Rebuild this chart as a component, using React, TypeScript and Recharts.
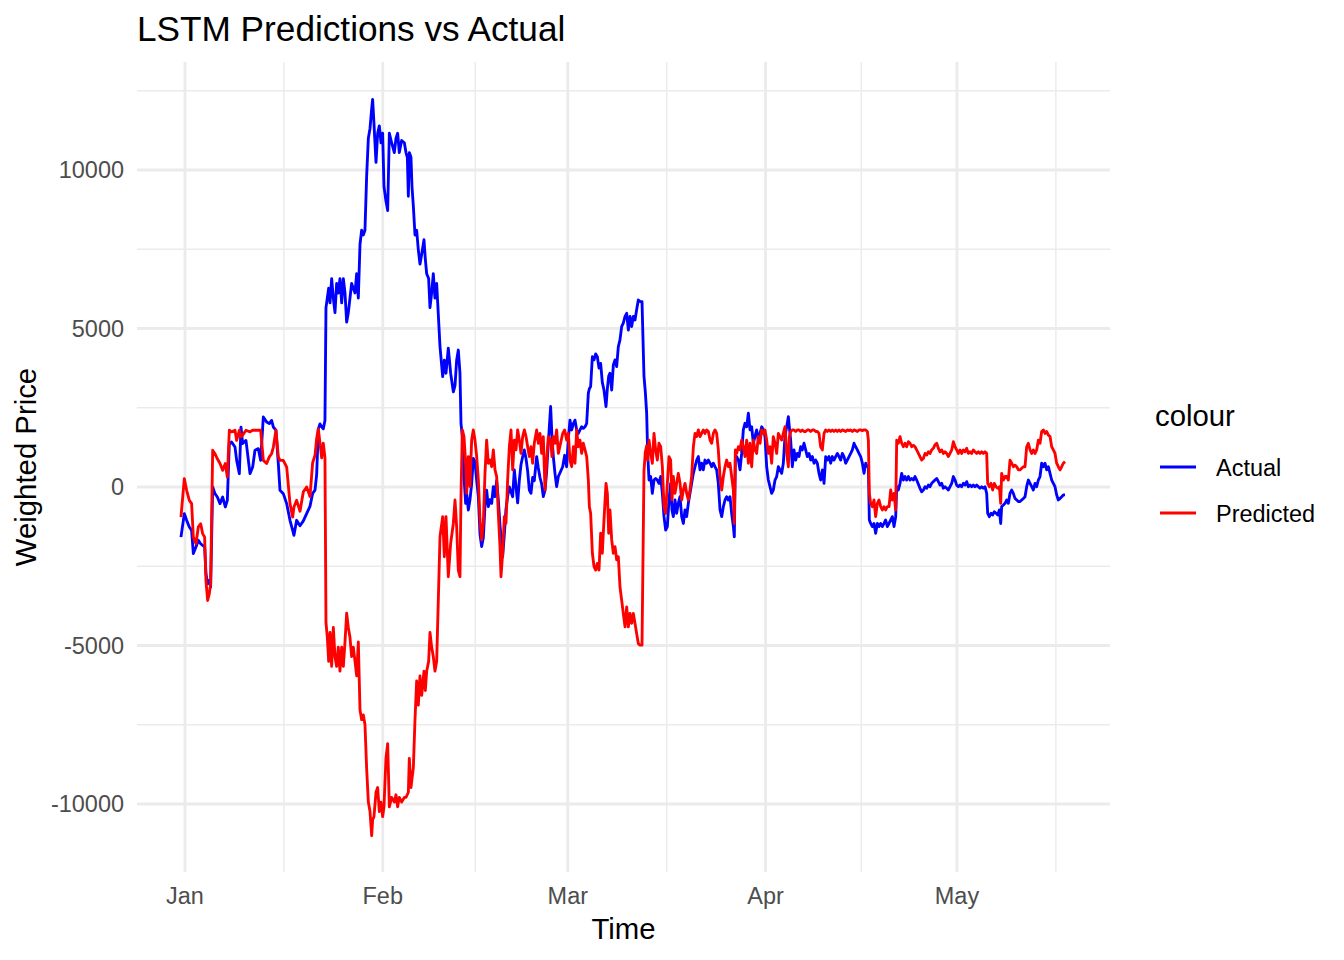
import { LineChart, Line, XAxis, YAxis, CartesianGrid } from 'recharts';

const FONT = '"Liberation Sans", Arial, Helvetica, sans-serif';

// days since 1 Jan (2024)
const days = [
  // early Jan
  -0.63, -0.1, 0.26, 0.68, 1.04, 1.31, 1.72, 2.09, 2.46, 2.77, 3.08, 3.29, 3.55, 3.81, 4.02, 4.34, 4.7, 5.07, 5.49, 5.9,
  6.32, 6.64, 6.95, 7.31, 7.84, 8.1, 8.52, 8.78, 9.04, 9.56, 10.19, 10.61, 10.97, 11.49, 11.86, 12.28, 12.8, 13.22, 13.58, 13.85,
  14.26, 14.63, 14.89, 15.41, 15.94, 16.46, 16.88, 17.08, 17.5,
  // late Jan - mid Feb
  18.03, 18.55, 19.07, 19.59, 20.01, 20.38, 20.64, 20.9, 21.16, 21.42, 21.68, 21.94, 22.1, 22.31, 22.52, 22.73, 22.99, 23.25, 23.51, 23.77,
  24.03, 24.29, 24.56, 24.82, 25.08, 25.34, 25.6, 25.86, 26.12, 26.38, 26.65, 26.91, 27.17, 27.43, 27.69, 27.95, 28.21, 28.47, 28.74, 29.0,
  29.26, 29.41, 29.62, 29.94, 30.2, 30.46, 30.72, 30.98, 31.19, 31.5, 31.77, 32.03, 32.39, 32.81, 33.07, 33.33, 33.59, 33.96, 34.38, 34.64,
  34.85, 35.01, 35.16, 35.42, 35.58, 35.79, 36.05, 36.31, 36.57, 36.83, 37.1, 37.46, 37.67, 37.88, 38.19, 38.4, 38.66, 38.92, 39.18, 39.45,
  // mid Feb - end Feb
  39.97, 40.39, 40.65, 40.91, 41.27, 41.64, 42.06, 42.32, 42.58, 42.84, 43.1, 43.26, 43.47, 43.73, 43.99, 44.15, 44.41, 44.67, 44.93, 45.19,
  45.45, 45.72, 45.98, 46.24, 46.5, 46.76, 47.02, 47.28, 47.54, 47.81, 48.07, 48.33, 48.59, 48.85, 49.11, 49.37, 49.53, 49.79, 50.05, 50.31,
  50.57, 50.84, 51.1, 51.36, 51.62, 51.88, 52.14, 52.4, 52.66, 52.93, 53.19, 53.45, 53.71, 53.97, 54.23, 54.49, 54.75, 55.12, 55.38, 55.64,
  55.9, 56.16, 56.43, 56.69, 56.95, 57.31, 57.52, 57.73, 57.99, 58.25, 58.52,
  // Mar
  59.2, 59.51, 59.82, 60.08, 60.34, 60.61, 60.87, 61.13, 61.39, 61.65, 61.91, 62.17, 62.43, 62.7, 62.96, 63.22, 63.38, 63.58, 63.85, 64.11,
  64.37, 64.63, 64.89, 65.15, 65.41, 65.67, 65.99, 66.2, 66.41, 66.61, 66.88, 67.14, 67.4, 67.66, 67.92, 68.18, 68.44, 68.7, 68.97, 69.23,
  69.49, 69.75, 70.01, 70.27, 70.53, 70.79, 71.05, 71.32, 71.63, 71.94, 72.15, 72.36, 72.52, 72.73,
  // mid Mar - early Apr
  72.99, 73.25, 73.51, 73.77, 74.03, 74.29, 74.56, 74.82, 75.08, 75.34, 75.6, 75.86, 76.12, 76.33, 76.54, 76.8, 77.06, 77.32, 77.59, 77.85,
  78.11, 78.37, 78.63, 78.89, 79.15, 79.41, 79.68, 79.94, 80.2, 80.46, 80.72, 80.98, 81.24, 81.5, 81.77, 82.03, 82.29, 82.55, 82.81, 83.07,
  83.33, 83.59, 83.86, 84.12, 84.38, 84.64, 84.9, 85.16, 85.42, 85.68, 85.95, 86.1, 86.26, 86.47, 86.73, 86.99, 87.25, 87.51, 87.77, 88.04,
  88.3, 88.56, 88.82, 89.08, 89.34, 89.6, 89.86, 90.13, 90.39, 90.65, 90.91, 91.17, 91.43, 91.69, 91.95, 92.21, 92.48, 92.74, 93.0,
  // Apr
  93.52, 93.78, 94.04, 94.31, 94.57, 94.72, 94.93, 95.19, 95.45, 95.72, 95.98, 96.24, 96.5, 96.76, 97.02, 97.28, 97.54, 97.81, 98.07, 98.33,
  98.59, 98.85, 99.11, 99.37, 99.63, 99.9, 100.16, 100.42, 100.68, 100.94, 101.2, 101.46, 101.72, 101.99, 102.25, 102.51, 102.77, 103.03, 103.29, 103.55,
  103.81, 104.08, 104.34, 104.6, 104.86, 105.12, 105.38, 105.64, 105.9, 106.17, 106.43, 106.69, 106.95, 107.11, 107.26, 107.47, 107.73, 107.99, 108.25, 108.52,
  108.78, 109.04, 109.3, 109.56, 109.82, 110.08, 110.35, 110.61, 110.87, 111.13, 111.39, 111.55, 111.81, 112.07, 112.33, 112.59, 112.85, 113.11, 113.38, 113.64,
  113.9, 114.16, 114.42, 114.68,
  // late Apr - May
  115.2, 115.47, 115.73, 115.99, 116.25, 116.51, 116.77, 117.03, 117.29, 117.55, 117.82, 118.08, 118.34, 118.6, 118.86, 119.12, 119.38, 119.64, 119.91, 120.17,
  120.43, 120.69, 120.95, 121.21, 121.47, 121.73, 122.0, 122.26, 122.52, 122.78, 123.04, 123.3, 123.56, 123.82, 124.09, 124.35, 124.61, 124.87, 125.13, 125.39,
  125.65, 125.81, 126.07, 126.33, 126.59, 126.85, 127.12, 127.38, 127.64, 127.85, 128.0, 128.27, 128.53, 128.79, 129.05, 129.31, 129.57, 129.83, 130.09, 130.36,
  130.62, 130.88, 131.14, 131.4, 131.66, 131.92, 132.18, 132.45, 132.71, 132.97, 133.23, 133.49, 133.75, 134.01, 134.27, 134.54, 134.8, 135.06, 135.32, 135.58,
  135.84, 136.1, 136.36, 136.62, 136.88, 137.15, 137.41, 137.67, 137.93,
];

const actual = [
  -1580, -840, -1050, -1260, -1370, -2100, -1890, -1680, -1790, -1840, -1890, -2735, -3050, -2950, -3160, 0, -210, -315, -525, -315,
  -630, -420, 1370, 1420, 1260, 840, 420, 1890, 1370, 1470, 420, 630, 1160, 1210, 840, 2210, 2050, 2000, 2100, 1890,
  1790, 740, -105, -210, -525, -1050, -1370, -1525, -1050,
  -1223, -1070, -840, -610, -200, -100, 400, 1835, 1990, 1900, 1835, 2100, 5660, 5960, 6270, 5810, 6575, 5960, 5500, 6420,
  6120, 6575, 5810, 6575, 6120, 5200, 5500, 5960, 6420, 6270, 6120, 6730, 5960, 7650, 8100, 7950, 8100, 9790, 11000, 11310,
  11930, 12230, 11470, 10240, 11160, 11390, 10860, 11160, 9480, 9020, 8720, 11160, 10860, 10550, 11000, 11160, 10550, 10930, 10860, 10550,
  10400, 9170, 10550, 10400, 9480, 8870, 7950, 8100, 7490, 7030, 7340, 7800, 7190, 6730, 6575, 5660, 6120, 6730, 5960, 6420,
  4430, 3480, 4000, 3590, 4380, 3590, 3000, 3200, 4000, 4320, 3590, 2010, 1590, 330, -515, -200, -725, -400, 100, 900,
  800, 200, -305, -1500, -1880, -1600, -600, -100, -620, -400, -515, 10, -305, 200, -400, -1200, -1570, -2200, -1500, -700,
  -300, 0, -150, -305, 540, 10, -500, 200, 700, 960, 1170, 900, 500, -100, -200, 300, 200, 960, 600, 300,
  100, -300, -100, 500, 1400, 2540, 1590, 960, 430, 10, 330,
  640, 1000, 640, 1500, 2110, 1800, 2000, 2110, 1800, 1690, 1800, 1900, 1850, 1900, 2010, 2960, 3100, 3170, 4110, 4010,
  4200, 4110, 3750, 3900, 3300, 3060, 2540, 3100, 3500, 3590, 3060, 3850, 4010, 3800, 4430, 4640, 5060, 5170, 5380, 5480,
  4950, 5380, 5060, 5380, 5270, 5590, 5900, 5850, 5850, 3500, 3000, 2330, 1060, 220,
  330, -200, 220, 270, 220, 115, 330, -200, -935, -1360, -1250, -410, 115, -725, -935, -410, -830, -515, -305, -935,
  -1150, -725, -935, -515, -200, 115, 430, 640, 850, 960, 540, 750, 540, 850, 750, 850, 750, 640, 750, 640,
  540, 115, -725, -935, -620, -410, -305, -410, -305, -830, -1250, -1570, 850, 960, 850, 540, 1060, 1800, 2010, 1900,
  2330, 1800, 1900, 1380, 1590, 1800, 1480, 1690, 1900, 1800, 1590, 640, 220, 10, -200, -95, 220, 330, 640,
  430, 750, 1590, 1900, 2220, 1900, 1480, 640, 1170, 850, 1060, 960, 1270, 1170, 1380, 1170, 960, 1060, 850, 960,
  750, 850, 750, 430, 220, 540, 115, 960, 850, 960, 750, 960, 850, 960, 1060, 960, 850, 1060, 960, 750,
  850, 960, 1060, 1170, 1380, 1270, 1170, 1060, 960, 750, 430, 750, 640, 640, -1040, -1150, -1250, -1150, -1460, -1150,
  -1250, -1150, -1250, -1150, -1040, -1250, -1150, -1040, -935, -1250, -935, 10, -95, 115, 430, 220, 330, 220, 330, 220,
  270, 220, 330, 220,
  -40, -150, -95, 10, -40, 60, 10, 115, 170, 220, 270, 170, 60, 115, -40, 10, -40, -95, 10, 115,
  330, 220, 60, 10, 60, 10, 115, 60, 170, 10, 60, 10, 60, 10, 60, 10, -40, 10, -40, 10,
  -200, -830, -935, -830, -880, -780, -830, -880, -725, -1150, -620, -570, -515, -410, -515, -200, -95, -200, -360, -410,
  -460, -460, -410, -360, -305, 10, 220, 115, 10, -95, 115, 10, 220, 330, 750, 640, 750, 540, 640, 430,
  220, 115, 10, -250, -410, -360, -305, -250, -250,
];

const predicted = [
  -950, 263, -105, -420, -525, -1580, -1790, -1260, -1160, -1470, -1580, -2950, -3580, -3370, -3050, 1160, 1050, 890, 740, 525,
  740, 315, 1790, 1740, 1790, 1470, 1790, 1580, 1630, 1790, 1740, 1790, 1790, 1790, 1790, 840, 740, 950, 1050, 1260,
  1790, 950, 840, 840, 630, -525, -950, -630, -420,
  -765, -150, 0, -300, 765, 1000, 1530, 1835, 1380, 920, 1380, 920, -4280, -4740, -5500, -4590, -5660, -4430, -5350, -5660,
  -5050, -5810, -5050, -5660, -4890, -3980, -4430, -4740, -5350, -5050, -5500, -5960, -4890, -7030, -7340, -7190, -7490, -8870, -9940, -10240,
  -11000, -10500, -10400, -9630, -9480, -10240, -9940, -10400, -10090, -8560, -8100, -10090, -9790, -9940, -9710, -10090, -9790, -9940, -9790, -9790,
  -9700, -9630, -8560, -9480, -9200, -8870, -7340, -6120, -6880, -5960, -6575, -5810, -6420, -5810, -5500, -4590, -5050, -5350, -5810, -5500,
  -1570, -935, -2200, -935, -2830, -1780, -1150, -410, -1250, -2620, -2830, -305, 1800, 1590, 750, -200, 960, 10, 1480, 1800,
  1480, 960, 220, -1040, -1670, -1150, 430, 1480, 750, 850, 640, 1170, 540, 330, -830, -1880, -2830, -2090, -935, -1150,
  220, 1270, 1800, 540, 1480, 1170, 1800, 1480, 1060, 1590, 1800, 1590, 1270, 960, 1270, 750, 1380, 1800, 1380, 1690,
  1060, 1590, -95, 850, 1590, 1480, 960, 1590, 1380, 1800, 1060,
  1690, 1800, 1480, 1690, 850, 640, 1270, 750, 1800, 1270, 1480, 1060, 1380, 1170, 960, 220, -620, -830, -2090, -2510,
  -2620, -2410, -2620, -1460, -2090, -1040, 115, -200, -1460, -725, -1670, -2090, -1880, -2300, -2200, -3150, -3570, -3990, -4410, -3780,
  -4410, -3990, -4300, -3990, -4300, -4620, -4940, -4990, -4990, 500, 1100, 1300, 850, 1480,
  1060, 750, 1690, 1170, 850, 1380, 1270, 640, -620, -830, 115, 960, 850, -410, 330, -200, 115, 430, 115, -410,
  -95, 115, -200, -410, -95, 330, 1270, 1690, 1590, 1800, 1590, 1690, 1800, 1690, 1800, 1750, 1480, 1380, 1690, 1800,
  1690, 1170, 330, -95, 330, 640, 850, 640, 750, 330, -95, -1150, 1170, 1060, 1270, 1170, 1480, 1270, 960, 1480,
  750, 1380, 640, 1480, 1170, 1060, 1590, 1380, 1800, 1690, 1800, 1480, 1060, 1270, 750, 1590, 1380, 1060, 1690,
  1480, 1690, 1900, 1060, 640, 1590, 1750, 1800, 1800, 1750, 1800, 1800, 1750, 1800, 1750, 1750, 1800, 1800, 1750, 1800,
  1800, 1750, 1750, 1690, 1270, 1170, 1690, 1800, 1750, 1800, 1750, 1800, 1750, 1800, 1750, 1800, 1750, 1800, 1780, 1750,
  1800, 1780, 1800, 1750, 1800, 1780, 1750, 1800, 1800, 1780, 1800, 1800, 1750, 1480, -200, -515, -620, -410, -935, -515,
  -410, -620, -725, -620, -725, -620, -620, -95, -410, -200, -725, 1480, 1380, 1590, 1380, 1270, 1380, 1270, 1430, 1380,
  1270, 1320, 1270, 1170,
  960, 850, 900, 1060, 1010, 1110, 1060, 1170, 1220, 1330, 1380, 1220, 1110, 1170, 1060, 1110, 1060, 960, 1060, 1170,
  1430, 1270, 1170, 1060, 1170, 1060, 1170, 1110, 1220, 1060, 1110, 1060, 1170, 1110, 1060, 1110, 1060, 1110, 1060, 1110,
  1060, 115, 10, 115, -95, 115, 10, -40, 10, -515, 430, 220, 330, 330, 220, 850, 750, 640, 690, 640,
  540, 540, 590, 640, 640, 1270, 1380, 1170, 1060, 1170, 1060, 1170, 1480, 1380, 1750, 1800, 1690, 1750, 1640, 1590,
  1270, 1170, 1060, 750, 640, 540, 640, 750, 800,
];

const monthTicks = [0, 31, 60, 91, 121];
const monthLabels = ['Jan', 'Feb', 'Mar', 'Apr', 'May'];
const minorDays = [15.5, 45.5, 75.5, 106, 136.5];
const valueTicks = [-10000, -5000, 0, 5000, 10000];
const minorValues = [-7500, -2500, 2500, 7500, 12500];

const seriesNames = ['Actual', 'Predicted'];
const seriesColors = ['#0000FF', '#FF0000'];

const data = days.map((day, i) => ({ day, actual: actual[i], predicted: predicted[i] }));

if (typeof document !== 'undefined') document.body.style.margin = '0';

const tickStyle = { fill: '#4D4D4D', fontSize: 23.47, fontFamily: FONT };

export default function App() {
  return (
    <div style={{ position: 'relative', width: 1344, height: 960, background: '#fff', fontFamily: FONT }}>
      <LineChart
        width={1344}
        height={960}
        data={data}
        margin={{ top: 62, right: 234, bottom: 0, left: 0 }}
      >
        {/* minor grid, then major grid (values given => no panel-edge lines) */}
        <CartesianGrid
          stroke="#EBEBEB"
          strokeWidth={1.42}
          horizontalValues={minorValues}
          verticalValues={minorDays}
        />
        <CartesianGrid
          stroke="#EBEBEB"
          strokeWidth={2.85}
          horizontalValues={valueTicks}
          verticalValues={monthTicks}
          syncWithTicks
        />
        <XAxis
          type="number"
          dataKey="day"
          domain={[-7.52, 144.98]}
          allowDataOverflow
          ticks={monthTicks}
          tickFormatter={(v) => monthLabels[monthTicks.indexOf(v)] ?? ''}
          height={88}
          axisLine={false}
          tickLine={false}
          tickSize={0}
          tickMargin={15}
          tick={tickStyle}
          interval={0}
        />
        <YAxis
          type="number"
          domain={[-12145, 13407]}
          allowDataOverflow
          ticks={valueTicks}
          width={137}
          axisLine={false}
          tickLine={false}
          tickSize={0}
          tickMargin={13}
          tick={tickStyle}
          interval={0}
        />
        <Line
          type="linear"
          dataKey="actual"
          name={seriesNames[0]}
          stroke={seriesColors[0]}
          strokeWidth={2.85}
          strokeLinejoin="round"
          dot={false}
          isAnimationActive={false}
        />
        <Line
          type="linear"
          dataKey="predicted"
          name={seriesNames[1]}
          stroke={seriesColors[1]}
          strokeWidth={2.85}
          strokeLinejoin="round"
          dot={false}
          isAnimationActive={false}
        />
      </LineChart>
      <svg
        width={1344}
        height={960}
        style={{ position: 'absolute', left: 0, top: 0, pointerEvents: 'none' }}
        fontFamily={FONT}
      >
        <text x={137} y={41} fontSize={35.2} fill="#000">
          LSTM Predictions vs Actual
        </text>
        <text x={623.5} y={939} fontSize={29.33} fill="#000" textAnchor="middle">
          Time
        </text>
        <text
          x={36}
          y={467}
          fontSize={29.33}
          fill="#000"
          textAnchor="middle"
          transform="rotate(-90, 36, 467)"
        >
          Weighted Price
        </text>
        <text x={1155} y={426} fontSize={29.33} fill="#000">
          colour
        </text>
        {seriesNames.map((name, i) => (
          <g key={name}>
            <line
              x1={1160}
              x2={1196}
              y1={467 + i * 46}
              y2={467 + i * 46}
              stroke={seriesColors[i]}
              strokeWidth={2.85}
            />
            <text x={1216} y={476 + i * 46} fontSize={23.47} fill="#000">
              {name}
            </text>
          </g>
        ))}
      </svg>
    </div>
  );
}
